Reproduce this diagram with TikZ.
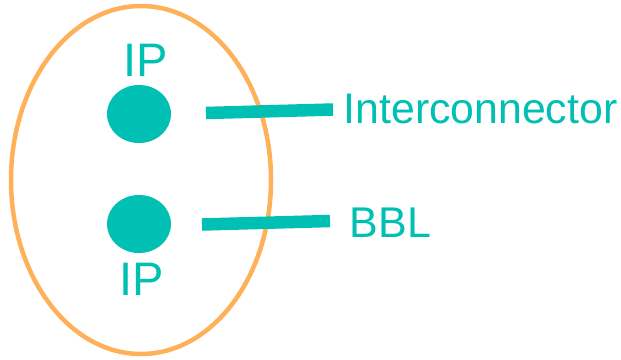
\documentclass[tikz,border=0pt]{standalone}
\usepackage{fontspec}
\setmainfont{Liberation Sans}
\usetikzlibrary{shapes.geometric}
\definecolor{teal0}{RGB}{0,191,179}
\definecolor{orng}{RGB}{255,177,90}
\begin{document}
\begin{tikzpicture}[x=1pt,y=-1pt,
  dot/.style={ellipse, fill=teal0, minimum width=64pt, minimum height=58pt, inner sep=0},
  lbl/.style={text=teal0, anchor=base west, inner sep=0, font=\fontsize{#1}{#1}\selectfont},
  bar/.style={draw=teal0, line width=12.5pt},
  ring/.style={draw=orng, line width=4.5pt}]
\useasboundingbox (0,0) rectangle (621,359);
\draw[ring] (141,180) ellipse [x radius=130, y radius=174];
\node[dot] (d1) at (139,114) {};
\node[dot] (d2) at (139,224) {};
\node[lbl=47] (ip1) at (123.5,76.5) {IP};
\node[lbl=47] (ip2) at (119,295) {IP};
\node[lbl=42.8] (inter) at (343.5,123) {Interconnector};
\node[lbl=43] (bbl) at (349.5,237) {BBL};
\coordinate (a1) at (206,113);
\coordinate (b1) at (333,109.5);
\coordinate (a2) at (202,224.5);
\coordinate (b2) at (330,221);
\draw[bar] (a1) -- (b1);
\draw[bar] (a2) -- (b2);
\end{tikzpicture}
\end{document}
